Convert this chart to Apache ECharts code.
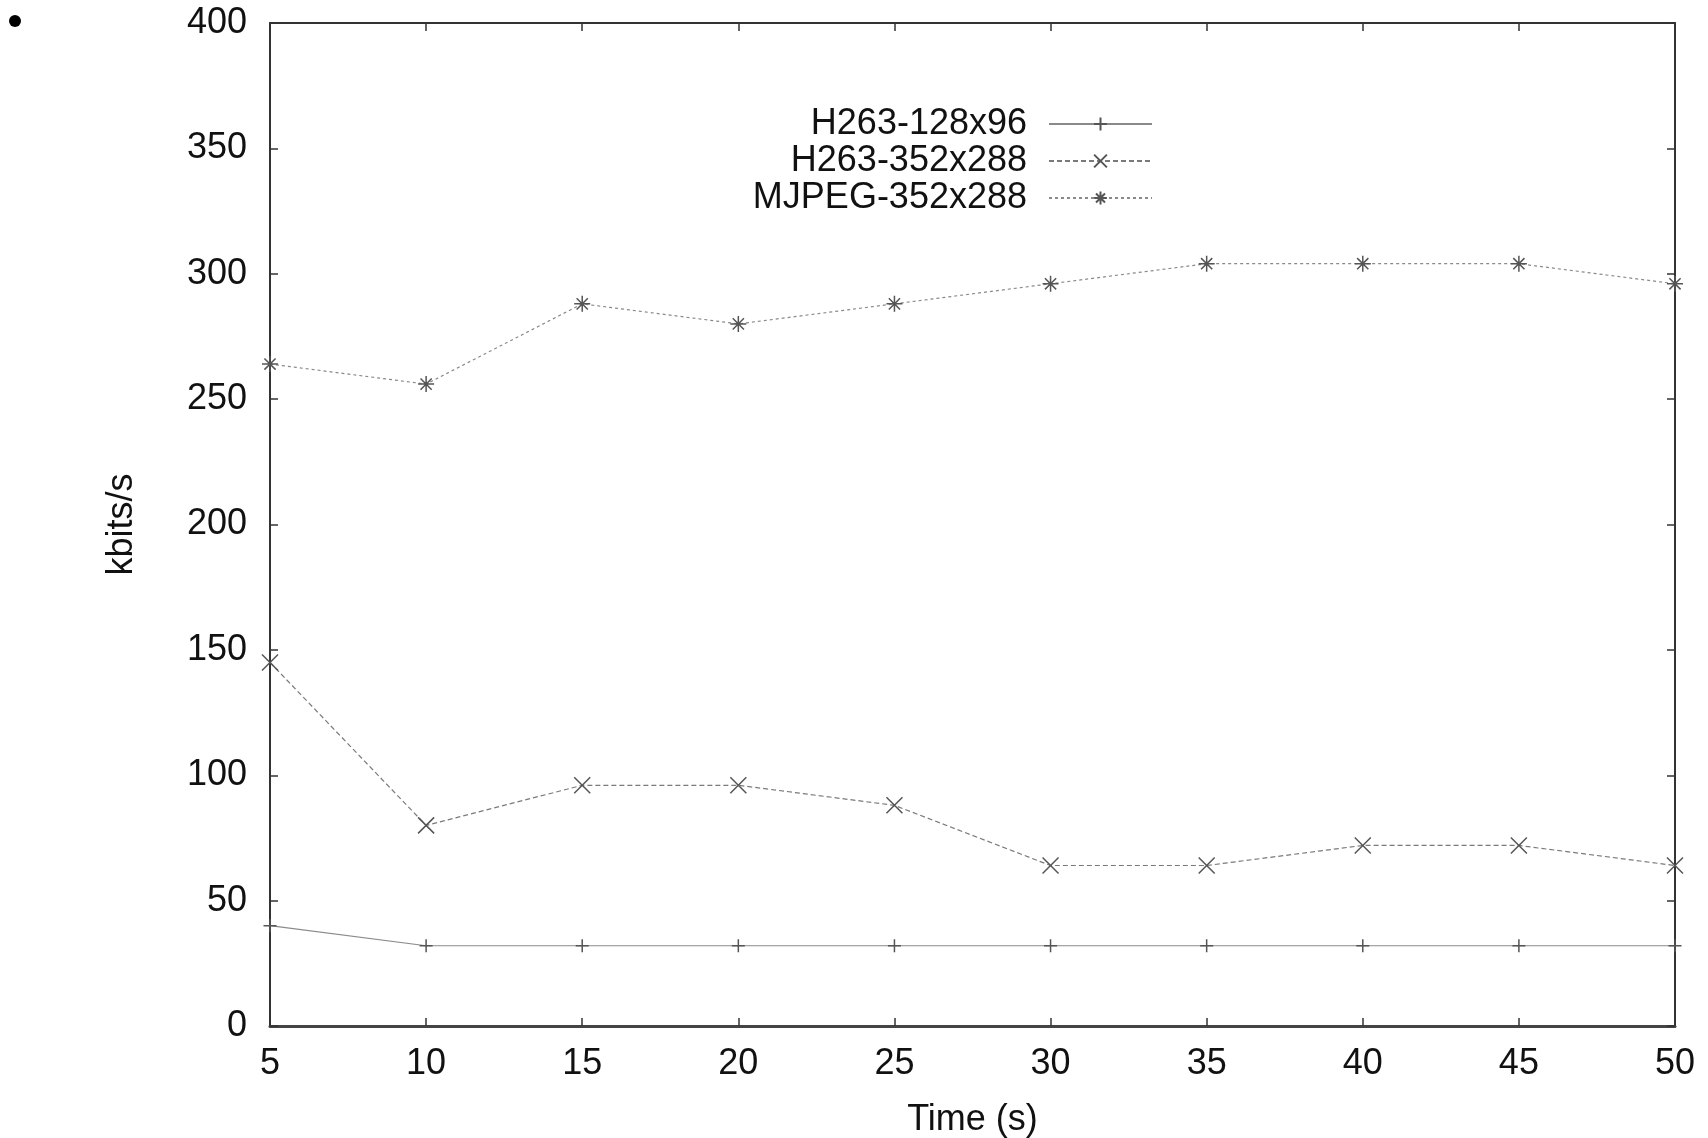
<!DOCTYPE html>
<html>
<head>
<meta charset="utf-8">
<script src="https://cdn.jsdelivr.net/npm/echarts@6/dist/echarts.min.js"></script>
<style>
html,body{margin:0;padding:0;background:#fff;}
#c{width:1708px;height:1138px;}
</style>
</head>
<body>
<div id="c"></div>
<script>
const times = [5, 10, 15, 20, 25, 30, 35, 40, 45, 50];
const h263Small = [40, 32, 32, 32, 32, 32, 32, 32, 32, 32];
const h263Large = [145, 80, 96, 96, 88, 64, 64, 72, 72, 64];
const mjpegLarge = [264, 256, 288, 280, 288, 296, 304, 304, 304, 296];
const seriesNames = ['H263-128x96', 'H263-352x288', 'MJPEG-352x288'];
const xTitle = 'Time (s)';
const yTitle = 'kbits/s';

const PLUS = 'path://M0,5L10,5M5,0L5,10';
const CROSS = 'path://M0,0L10,10M10,0L0,10';
const STAR = 'path://M0,5L10,5M5,0L5,10M1.5,1.5L8.5,8.5M8.5,1.5L1.5,8.5';

const FONT = 'Liberation Sans, Arial, sans-serif';
const FS = 36;

function pairs(vals){ return times.map((t,i)=>[t, vals[i]]); }

function mkSeries(name, vals, symbol, size, lineType, lineColor){
  return {
    name: name, type: 'line', data: pairs(vals),
    symbol: symbol, symbolSize: size, showSymbol: true,
    lineStyle: {color: lineColor, width: 1.2, type: lineType},
    itemStyle: {color: 'rgba(0,0,0,0)', borderColor: '#555', borderWidth: 1.5},
    emphasis: {disabled: true}, animation: false, clip: false
  };
}

function mkLegend(name, top){
  return {
    data: [name], orient: 'vertical', align: 'right', right: 555, top: top, padding: 0,
    itemWidth: 103, itemHeight: 16, selectedMode: false,
    textStyle: {fontFamily: FONT, fontSize: FS, color: '#111', lineHeight: 36, padding: [0, 17, 0, 0]}
  };
}

const chart = echarts.init(document.getElementById('c'), null, {renderer: 'canvas'});
chart.setOption({
  backgroundColor: '#fff',
  animation: false,
  grid: {left: 270, top: 23, right: 33, bottom: 112, containLabel: false, outerBoundsMode: 'none'},
  legend: [mkLegend(seriesNames[0], 106), mkLegend(seriesNames[1], 143), mkLegend(seriesNames[2], 180)],
  graphic: [{type: 'circle', shape: {cx: 15, cy: 21, r: 6}, style: {fill: '#000'}}],
  xAxis: [{
    type: 'value', min: 5, max: 50, interval: 5,
    name: xTitle, nameLocation: 'middle', nameGap: 76,
    nameTextStyle: {fontFamily: FONT, fontSize: FS, color: '#111'},
    axisLine: {show: true, onZero: false, lineStyle: {color: '#444', width: 3}},
    axisTick: {show: true, inside: true, length: 8, lineStyle: {color: '#333', width: 1.5}},
    axisLabel: {fontFamily: FONT, fontSize: FS, color: '#111', margin: 20},
    splitLine: {show: false}
  }, {
    type: 'value', min: 5, max: 50, interval: 5, position: 'top',
    axisLine: {show: true, onZero: false, lineStyle: {color: '#333', width: 2}},
    axisTick: {show: true, inside: true, length: 8, lineStyle: {color: '#333', width: 1.5}},
    axisLabel: {show: false}, splitLine: {show: false}
  }],
  yAxis: [{
    type: 'value', min: 0, max: 400, interval: 50,
    name: yTitle, nameLocation: 'middle', nameGap: 130, nameRotate: 90,
    nameTextStyle: {fontFamily: FONT, fontSize: FS, color: '#111'},
    axisLine: {show: true, onZero: false, lineStyle: {color: '#333', width: 2}},
    axisTick: {show: true, inside: true, length: 8, lineStyle: {color: '#333', width: 1.5}},
    axisLabel: {fontFamily: FONT, fontSize: FS, color: '#111', margin: 23},
    splitLine: {show: false}
  }, {
    type: 'value', min: 0, max: 400, interval: 50, position: 'right',
    axisLine: {show: true, onZero: false, lineStyle: {color: '#333', width: 2}},
    axisTick: {show: true, inside: true, length: 8, lineStyle: {color: '#333', width: 1.5}},
    axisLabel: {show: false}, splitLine: {show: false}
  }],
  series: [
    mkSeries(seriesNames[0], h263Small, PLUS, 13, 'solid', '#8a8a8a'),
    mkSeries(seriesNames[1], h263Large, CROSS, 16, [5, 3], '#7a7a7a'),
    mkSeries(seriesNames[2], mjpegLarge, STAR, 16, [3, 3], '#8a8a8a')
  ]
});
</script>
</body>
</html>
